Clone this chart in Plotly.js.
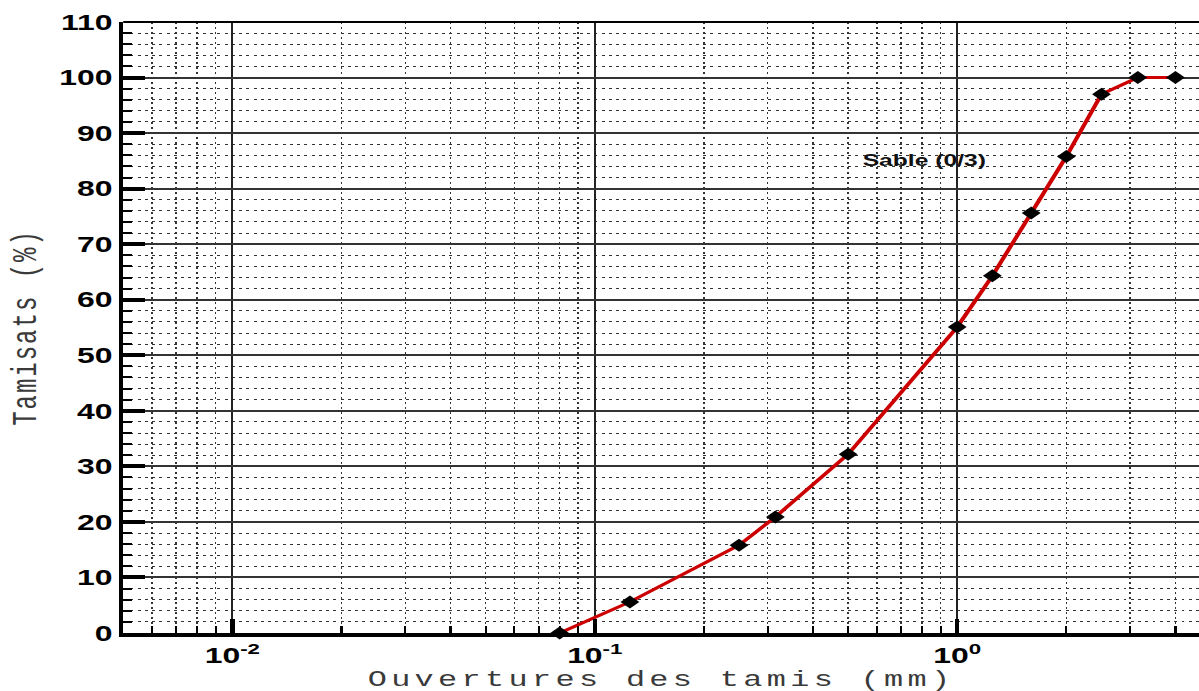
<!DOCTYPE html>
<html>
<head>
<meta charset="utf-8">
<script src="https://cdn.plot.ly/plotly-3.0.1.min.js"></script>
<style>
html, body { margin:0; padding:0; background:#fff; overflow:hidden; width:1199px; height:691px; }
#chart { width:827px; height:691px; transform: scaleX(1.4498); transform-origin: 0 0; }
#chart .xtitle { transform: translateY(2px); letter-spacing: 3px; }
#chart .ytitle { letter-spacing: 2px; }
</style>
</head>
<body>
<div id="chart"></div>
<script>
// Sieve openings (mm) and cumulative passing (%)
const ouvertures = [0.08, 0.125, 0.25, 0.315, 0.5, 1, 1.25, 1.6, 2, 2.5, 3.15, 4];
const tamisats   = [0, 5.6, 15.8, 20.9, 32.2, 55.1, 64.3, 75.6, 85.8, 97, 100, 100];
const xTickVals  = [0.01, 0.1, 1];
const xTickText  = ['10<sup>-2</sup>', '10<sup>-1</sup>', '10<sup>0</sup>'];
const serieName  = 'Sable (0/3)';

// minor log grid positions (2..9 in each decade)
const xMinor = [];
for (let k = -3; k <= 0; k++) for (let d = 2; d <= 9; d++) xMinor.push(d * Math.pow(10, k));

const tickFont = {family: 'Liberation Sans, Arial, sans-serif', size: 22, color: '#000', weight: 'bold'};
const yTitleFont = {family: 'Liberation Mono, Courier New, monospace', size: 24, color: '#3a3a3a'};
const xTitleFont = {family: 'Liberation Mono, Courier New, monospace', size: 22, color: '#3a3a3a'};

const trace = {
  x: ouvertures, y: tamisats, type: 'scatter', mode: 'lines+markers', name: serieName,
  line: {color: '#cc0000', width: 3},
  marker: {symbol: 'diamond', size: 10, color: '#000'},
  cliponaxis: false, showlegend: false
};

const layout = {
  width: 827, height: 691,
  margin: {l: 85, r: 0, t: 22, b: 58},
  paper_bgcolor: '#fff', plot_bgcolor: '#fff',
  xaxis: {
    type: 'log', range: [Math.log10(0.005), 0.667],
    tickmode: 'array', tickvals: xTickVals, ticktext: xTickText,
    ticks: 'inside', ticklen: 14, tickwidth: 3, tickcolor: '#000',
    showgrid: true, gridcolor: '#222', gridwidth: 1.4,
    showline: true, linecolor: '#000', linewidth: 4,
    tickfont: tickFont, zeroline: false,
    minor: {tickmode: 'array', tickvals: xMinor, ticks: 'inside', ticklen: 7, tickwidth: 1.5, tickcolor: '#000',
            showgrid: true, gridcolor: '#333', griddash: '2px,3px', gridwidth: 1},
    title: {text: 'Ouvertures des tamis (mm)', font: xTitleFont}
  },
  yaxis: {
    range: [0, 110], tickmode: 'linear', tick0: 0, dtick: 10,
    ticks: 'inside', ticklen: 15, tickwidth: 4, tickcolor: '#000',
    showgrid: true, gridcolor: '#333', gridwidth: 2,
    showline: true, linecolor: '#000', linewidth: 3,
    tickfont: tickFont, zeroline: false,
    minor: {dtick: 2, ticks: 'inside', ticklen: 6, tickwidth: 2, tickcolor: '#000',
            showgrid: true, gridcolor: '#333', griddash: '2px,3px', gridwidth: 1},
    title: {text: 'Tamisats (%)', font: yTitleFont}
  },
  shapes: [{type: 'line', xref: 'paper', yref: 'paper', x0: 0, x1: 1, y0: 1, y1: 1, line: {color: '#000', width: 2}}],
  annotations: [{xref: 'x', yref: 'y', x: Math.log10(0.81), y: 85, text: '<b>' + serieName + '</b>', showarrow: false,
    font: {family: 'Liberation Sans, Arial, sans-serif', size: 17, color: '#111'}}]
};

Plotly.newPlot('chart', [trace], layout, {displayModeBar: false, staticPlot: true});
</script>
</body>
</html>
